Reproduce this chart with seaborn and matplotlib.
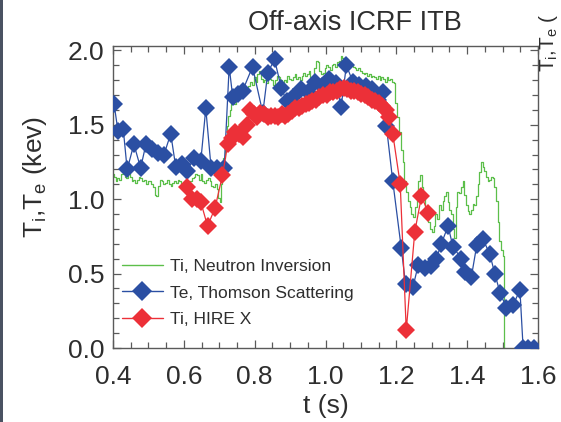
import numpy as np
import pandas as pd
import matplotlib
matplotlib.use("Agg")
import matplotlib.pyplot as plt
import seaborn as sns
from matplotlib.ticker import MultipleLocator
from matplotlib.lines import Line2D

# ---------------- data ----------------
neutron_t = [0.400, 0.405, 0.410, 0.415, 0.420, 0.425, 0.430, 0.435, 0.440, 0.445,
             0.450, 0.455, 0.460, 0.465, 0.470, 0.475, 0.480, 0.485, 0.490, 0.495,
             0.500, 0.505, 0.510, 0.515, 0.520, 0.525, 0.530, 0.535, 0.540, 0.545,
             0.550, 0.555, 0.560, 0.565, 0.570, 0.575, 0.580, 0.585, 0.590, 0.595,
             0.600, 0.605, 0.610, 0.615, 0.620, 0.625, 0.630, 0.635, 0.640, 0.645,
             0.650, 0.655, 0.660, 0.665, 0.670, 0.675, 0.680, 0.685, 0.690, 0.695,
             0.700, 0.703, 0.706, 0.709, 0.713, 0.717, 0.720, 0.724, 0.728, 0.732,
             0.736, 0.740, 0.745, 0.750, 0.755, 0.760, 0.765, 0.770, 0.775, 0.780,
             0.785, 0.790, 0.795, 0.800, 0.805, 0.810, 0.815, 0.820, 0.825, 0.830,
             0.835, 0.840, 0.845, 0.850, 0.855, 0.860, 0.865, 0.870, 0.875, 0.880,
             0.885, 0.890, 0.895, 0.900, 0.905, 0.910, 0.915, 0.920, 0.925, 0.930,
             0.935, 0.940, 0.945, 0.950, 0.955, 0.960, 0.965, 0.970, 0.975, 0.980,
             0.985, 0.990, 0.995, 1.000, 1.005, 1.010, 1.015, 1.020, 1.025, 1.030,
             1.035, 1.040, 1.045, 1.050, 1.055, 1.060, 1.065, 1.070, 1.075, 1.080,
             1.085, 1.090, 1.095, 1.100, 1.105, 1.110, 1.115, 1.120, 1.125, 1.130,
             1.135, 1.140, 1.145, 1.150, 1.155, 1.160, 1.165, 1.170, 1.175, 1.180,
             1.185, 1.190, 1.195, 1.200, 1.205, 1.210, 1.215, 1.220, 1.225, 1.230,
             1.235, 1.240, 1.245, 1.250, 1.255, 1.260, 1.265, 1.270, 1.274, 1.278,
             1.283, 1.288, 1.293, 1.298, 1.303, 1.308, 1.313, 1.318, 1.323, 1.328,
             1.333, 1.338, 1.342, 1.347, 1.352, 1.357, 1.362, 1.366, 1.370, 1.375,
             1.380, 1.385, 1.389, 1.394, 1.399, 1.404, 1.408, 1.413, 1.418, 1.422,
             1.427, 1.432, 1.437, 1.441, 1.446, 1.451, 1.456, 1.461, 1.465, 1.470,
             1.474, 1.479, 1.484, 1.488, 1.493, 1.498, 1.503, 1.507]
neutron_ti = [1.17, 1.15, 1.12, 1.14, 1.13, 1.17, 1.19, 1.15, 1.14, 1.18,
              1.15, 1.12, 1.13, 1.11, 1.13, 1.15, 1.14, 1.12, 1.13, 1.10,
              1.12, 1.12, 1.10, 1.08, 1.03, 1.02, 1.09, 1.13, 1.12, 1.10,
              1.11, 1.13, 1.10, 1.09, 1.11, 1.12, 1.11, 1.13, 1.12, 1.10,
              1.11, 1.13, 1.12, 1.10, 1.12, 1.14, 1.15, 1.17, 1.16, 1.13,
              1.17, 1.12, 1.11, 1.13, 1.14, 1.12, 1.09, 1.08, 1.10, 1.07,
              1.01, 0.98, 1.10, 1.18, 1.28, 1.36, 1.40, 1.49, 1.56, 1.60,
              1.64, 1.66, 1.64, 1.69, 1.70, 1.68, 1.72, 1.71, 1.73, 1.72,
              1.76, 1.79, 1.77, 1.82, 1.79, 1.84, 1.86, 1.81, 1.79, 1.80,
              1.78, 1.82, 1.81, 1.80, 1.77, 1.80, 1.83, 1.82, 1.80, 1.78,
              1.80, 1.79, 1.83, 1.81, 1.80, 1.82, 1.84, 1.81, 1.82, 1.80,
              1.83, 1.85, 1.83, 1.84, 1.86, 1.82, 1.81, 1.88, 1.93, 1.92,
              1.86, 1.84, 1.85, 1.88, 1.90, 1.89, 1.87, 1.90, 1.91, 1.89,
              1.92, 1.93, 1.96, 1.95, 1.92, 1.94, 1.91, 1.92, 1.90, 1.89,
              1.88, 1.87, 1.88, 1.86, 1.85, 1.84, 1.85, 1.83, 1.84, 1.82,
              1.83, 1.82, 1.81, 1.83, 1.80, 1.82, 1.81, 1.79, 1.82, 1.80,
              1.81, 1.79, 1.78, 1.65, 1.55, 1.45, 1.33, 1.25, 1.12, 1.05,
              0.99, 0.95, 0.90, 0.88, 0.95, 1.05, 1.12, 1.16, 1.08, 1.01,
              0.93, 0.88, 0.85, 0.80, 0.78, 0.82, 0.90, 0.87, 0.96, 0.93,
              0.99, 1.02, 1.05, 0.98, 0.93, 0.90, 0.80, 0.74, 0.95, 1.05,
              1.04, 1.08, 1.12, 1.03, 0.96, 0.92, 0.90, 0.93, 0.97, 0.96,
              1.02, 1.10, 1.18, 1.25, 1.22, 1.19, 1.15, 1.12, 1.13, 1.15,
              1.14, 1.08, 0.99, 0.85, 0.72, 0.66, 0.62, 0.0]

thomson_t = [0.403, 0.414, 0.429, 0.440, 0.459, 0.478, 0.493, 0.511, 0.527, 0.544,
             0.563, 0.577, 0.596, 0.610, 0.629, 0.648, 0.662, 0.677, 0.695, 0.714,
             0.728, 0.738, 0.752, 0.766, 0.794, 0.823, 0.837, 0.856, 0.875, 0.890,
             0.907, 0.930, 0.950, 0.969, 0.990, 1.011, 1.030, 1.044, 1.059, 1.077,
             1.095, 1.115, 1.130, 1.147, 1.162, 1.172, 1.190, 1.214, 1.226, 1.247,
             1.262, 1.280, 1.299, 1.313, 1.327, 1.346, 1.360, 1.384, 1.393, 1.412,
             1.427, 1.445, 1.464, 1.478, 1.493, 1.511, 1.530, 1.549, 1.558, 1.572,
             1.590]
thomson_te = [1.64, 1.46, 1.47, 1.20, 1.37, 1.21, 1.37, 1.34, 1.31, 1.30,
              1.44, 1.22, 1.24, 1.19, 1.28, 1.26, 1.61, 1.21, 1.21, 1.21,
              1.89, 1.69, 1.71, 1.73, 1.89, 1.58, 1.85, 1.94, 1.75, 1.66,
              1.69, 1.74, 1.72, 1.79, 1.76, 1.81, 1.78, 1.62, 1.90, 1.79,
              1.77, 1.76, 1.74, 1.67, 1.72, 1.49, 1.12, 0.67, 0.43, 0.41,
              0.56, 0.54, 0.55, 0.60, 0.70, 0.82, 0.68, 0.60, 0.51, 0.48,
              0.69, 0.73, 0.63, 0.50, 0.37, 0.27, 0.29, 0.39, 0.0, 0.0,
              0.0]

hirex_t = [0.610, 0.624, 0.637, 0.648, 0.667, 0.688, 0.709, 0.724, 0.735, 0.745,
           0.757, 0.768, 0.778, 0.787, 0.797, 0.806, 0.816, 0.827, 0.837, 0.846,
           0.856, 0.866, 0.876, 0.886, 0.895, 0.905, 0.914, 0.924, 0.934, 0.944,
           0.954, 0.963, 0.973, 0.983, 0.993, 1.003, 1.013, 1.022, 1.032, 1.042,
           1.052, 1.062, 1.071, 1.081, 1.091, 1.101, 1.111, 1.121, 1.131, 1.141,
           1.151, 1.160, 1.170, 1.180, 1.190, 1.211, 1.228, 1.252, 1.271, 1.290]
hirex_ti = [1.08, 1.00, 1.00, 0.98, 0.82, 0.94, 1.16, 1.37, 1.41, 1.45,
            1.44, 1.42, 1.50, 1.60, 1.57, 1.55, 1.58, 1.57, 1.55, 1.56,
            1.56, 1.55, 1.57, 1.56, 1.57, 1.59, 1.61, 1.61, 1.63, 1.64,
            1.65, 1.66, 1.67, 1.69, 1.70, 1.70, 1.72, 1.72, 1.73, 1.74,
            1.75, 1.74, 1.73, 1.73, 1.72, 1.71, 1.70, 1.69, 1.67, 1.66,
            1.65, 1.63, 1.60, 1.55, 1.44, 1.10, 0.12, 0.78, 1.02, 0.91]

labels = ["Ti, Neutron Inversion", "Te, Thomson Scattering", "Ti, HIRE X"]
x_ticks = [0.4, 0.6, 0.8, 1.0, 1.2, 1.4, 1.6]
y_ticks = [0.0, 0.5, 1.0, 1.5, 2.0]

# ---------------- style ----------------
sns.set_theme(style="ticks")
plt.rcParams["font.family"] = ["Liberation Sans", "DejaVu Sans"]
plt.rcParams["mathtext.fontset"] = "custom"
plt.rcParams["mathtext.rm"] = "Liberation Sans"
plt.rcParams["mathtext.it"] = "Liberation Sans"

GREEN = "#5cbf4a"
BLUE = "#2b4fa3"
RED = "#ec3038"
TXT = "#2e2e2e"
SPINE = "#5a5a5a"

fig = plt.figure(figsize=(5.61, 4.22), dpi=100)
W, H = 561, 422
L, R, T, B = 113, 538, 46, 348
ax = fig.add_axes([L / W, 1 - B / H, (R - L) / W, (B - T) / H])

df_n = pd.DataFrame({"t": neutron_t, "v": neutron_ti})
df_t = pd.DataFrame({"t": thomson_t, "v": thomson_te})
df_h = pd.DataFrame({"t": hirex_t, "v": hirex_ti})

sns.lineplot(data=df_n, x="t", y="v", ax=ax, sort=False, estimator=None,
             color=GREEN, lw=0.9, drawstyle="steps-mid", zorder=2)
sns.lineplot(data=df_t, x="t", y="v", ax=ax, sort=False, estimator=None,
             color=BLUE, lw=0.9, marker="D", markersize=9,
             markeredgewidth=0, markerfacecolor=BLUE, zorder=3)
sns.lineplot(data=df_h, x="t", y="v", ax=ax, sort=False, estimator=None,
             color=RED, lw=0.9, marker="D", markersize=9,
             markeredgewidth=0, markerfacecolor=RED, zorder=4)

ax.set_xlim(0.4, 1.6)
ax.set_ylim(0.0, 2.03)
ax.set_xticks(x_ticks)
ax.set_xticklabels([f"{v:.1f}" for v in x_ticks])
ax.set_yticks(y_ticks)
ax.set_yticklabels([f"{v:.1f}" for v in y_ticks])
ax.xaxis.set_minor_locator(MultipleLocator(0.05))
ax.yaxis.set_minor_locator(MultipleLocator(0.1))
ax.tick_params(which="both", direction="in", top=True, right=True,
               color=SPINE, width=0.9)
ax.tick_params(which="major", length=6)
ax.tick_params(which="minor", length=4)
ax.tick_params(axis="x", which="major", labelsize=19, labelcolor=TXT, pad=12)
ax.tick_params(axis="y", which="major", labelsize=19, labelcolor=TXT, pad=6)
for s in ax.spines.values():
    s.set_color(SPINE)
    s.set_linewidth(1.0)
ax.set_xlabel("")
ax.set_ylabel("")

fig.text(0.632, 0.945, "Off-axis ICRF ITB", fontsize=19.5, color=TXT,
         ha="center", va="center")
fig.text(0.581, 0.038, "t (s)", fontsize=19, color=TXT, ha="center", va="center")
fig.text(0.062, 0.58, r"T$_\mathregular{i}$,T$_\mathregular{e}$ (kev)", fontsize=19,
         color=TXT, ha="center", va="center", rotation=90)
# label of the neighbouring panel, squeezed against the right edge
fig.text(0.999, 0.90, r"T$_\mathregular{i}$,T$_\mathregular{e}$ (", fontsize=15,
         color=TXT, ha="right", va="center", rotation=90)

handles = [
    Line2D([], [], color=GREEN, lw=1.0),
    Line2D([], [], color=BLUE, lw=1.0, marker="D", markersize=10, markeredgewidth=0),
    Line2D([], [], color=RED, lw=1.0, marker="D", markersize=10, markeredgewidth=0),
]
ax.legend(handles, labels, loc="upper left", bbox_to_anchor=(0.02, 0.295),
          frameon=False, fontsize=12.5, labelcolor=TXT, handlelength=2.4,
          handletextpad=0.4, labelspacing=0.65, borderpad=0, borderaxespad=0)

# dark border strip at the left edge of the picture
fig.add_artist(plt.Rectangle((0, 0), 3 / W, 1, transform=fig.transFigure,
                             color="#4a5262", lw=0))

fig.savefig("out.png", dpi=100)
